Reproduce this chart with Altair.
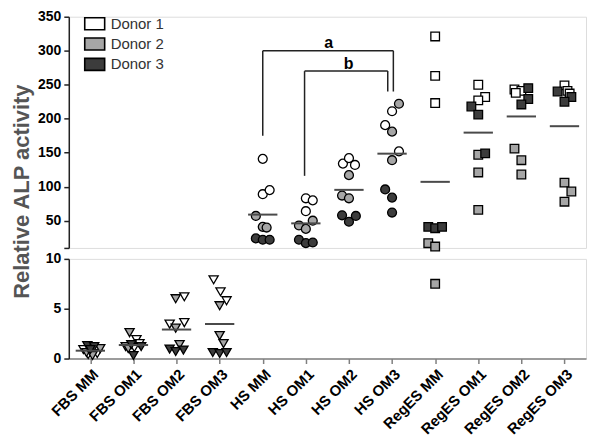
import altair as alt
import pandas as pd

categories = ["FBS MM", "FBS OM1", "FBS OM2", "FBS OM3",
              "HS MM", "HS OM1", "HS OM2", "HS OM3",
              "RegES MM", "RegES OM1", "RegES OM2", "RegES OM3"]
media = ["FBS"] * 4 + ["HS"] * 4 + ["RegES"] * 4
donors = ["Donor 1", "Donor 2", "Donor 3"]

# three replicates per donor and condition
donor1_values = [[0.5, 0.4, 0.9], [1.9, 1.5, 1.1], [6.2, 3.6, 3.45], [7.9, 6.7, 5.8],
                 [141, 89, 95], [83, 80, 64], [134, 142, 132], [211, 190.5, 152],
                 [321, 263, 223], [250, 232, 227], [243, 241, 238], [249, 241, 237]]
donor2_values = [[0.6, 0.3, 1.0], [2.6, 1.2, 1.0], [6.0, 3.05, 1.4], [5.3, 2.3, 1.5],
                 [57, 41, 40], [43, 38, 50], [117, 87, 83], [222, 181, 139],
                 [17, 12, 7.5], [147, 121, 66], [156, 139, 118], [106, 93, 78]]
donor3_values = [[1.3, 1.2, 0.9], [1.4, 1.2, 0.3], [0.95, 0.7, 0.85], [0.6, 0.5, 0.6],
                 [24, 22, 22], [22, 17, 18], [58, 48.5, 57], [96, 84, 62],
                 [41, 39, 41], [218, 206, 149], [245, 229, 221], [240, 232, 225]]

# horizontal scatter of the dots inside a category (category units)
donor1_jitter = [[0.16, -0.05, -0.16], [0.07, 0.14, 0.02], [0.18, 0.18, -0.16], [-0.14, 0.02, 0.16],
                 [0, 0, 0.16], [0, 0.16, 0], [-0.14, 0, 0.14], [0, -0.16, 0.16],
                 [0, 0, 0], [0, 0.16, 0], [-0.16, 0, -0.13], [0, 0.07, 0.12]]
donor2_jitter = [[-0.09, 0.05, 0.23], [-0.09, -0.18, -0.12], [-0.02, -0.02, 0.07], [0, 0, 0.09],
                 [-0.16, 0, 0.09], [-0.16, 0, 0.16], [0, -0.16, 0], [0.16, 0, 0],
                 [-0.16, 0, 0], [0, 0, 0], [-0.16, 0, 0], [0, 0.16, 0]]
donor3_jitter = [[-0.07, 0.09, 0], [-0.05, 0.18, 0], [-0.16, -0.02, 0.16], [-0.16, 0, 0.16],
                 [-0.16, 0, 0.16], [-0.16, 0, 0.16], [-0.16, 0, 0.16], [-0.16, 0, 0],
                 [-0.16, 0, 0.16], [-0.16, 0, 0.16], [0.16, 0.16, 0], [-0.16, 0.16, 0]]

donor_colors = ["#ffffff", "#a6a6a6", "#3c3c3c"]

# significance brackets (category index, value)
bracket_x = [4.0, 4.0, 7.03, 4.97, 4.97, 6.9]
bracket_x2 = [4.0, 7.03, 7.03, 4.97, 6.9, 6.9]
bracket_y = [175, 300, 300, 116, 270, 270]
bracket_y2 = [300, 300, 240, 270, 270, 240]
bracket_labels = ["a", "b"]
bracket_label_x = [5.53, 5.99]
bracket_label_y = [311, 281]

rows = []
for i, cat in enumerate(categories):
    for d, vals, jit in zip(donors, [donor1_values, donor2_values, donor3_values],
                            [donor1_jitter, donor2_jitter, donor3_jitter]):
        for v, j in zip(vals[i], jit[i]):
            rows.append({"idx": i, "category": cat, "medium": media[i],
                         "donor": d, "value": v, "pos": i + j})
df = pd.DataFrame(rows)

brackets = pd.DataFrame({"x": bracket_x, "x2": bracket_x2, "y": bracket_y, "y2": bracket_y2})
blabels = pd.DataFrame({"label": bracket_labels, "x": bracket_label_x, "y": bracket_label_y})

W = 519
xscale = alt.Scale(domain=[-0.5, 11.5], nice=False, zero=False)
label_array = "[" + ",".join("'" + c + "'" for c in categories) + "]"

fill_enc = alt.Fill("donor:N",
                    scale=alt.Scale(domain=donors, range=donor_colors),
                    legend=alt.Legend(title=None, orient="none", legendX=17, legendY=-2,
                                      symbolType="M-1.25,-0.75H1.25V0.75H-1.25Z", symbolSize=256,
                                      symbolStrokeColor="black", symbolStrokeWidth=1.6,
                                      symbolOpacity=1, labelFontSize=15, labelColor="#333333",
                                      labelFont="Liberation Sans", rowPadding=0.4, labelOffset=7))
shape_enc = alt.Shape("medium:N", scale=alt.Scale(domain=["FBS", "HS", "RegES"],
                                                  range=["triangle-down", "circle", "square"]),
                      legend=None)
size_enc = alt.Size("medium:N", scale=alt.Scale(domain=["FBS", "HS", "RegES"], range=[85, 75, 85]),
                    legend=None)


def panel(lo, hi, height, yaxis, xaxis, keep_expr, extras):
    ysc = alt.Scale(domain=[lo, hi], nice=False, zero=False)
    pts = alt.Chart(df).transform_filter(keep_expr).mark_point(
        filled=True, opacity=1, stroke="black", strokeWidth=1.3
    ).encode(
        x=alt.X("pos:Q", scale=xscale, axis=xaxis),
        y=alt.Y("value:Q", scale=ysc, axis=yaxis),
        fill=fill_enc, shape=shape_enc, size=size_enc,
    )
    means = alt.Chart(df).transform_aggregate(
        mean="mean(value)", groupby=["idx"]
    ).transform_calculate(
        x1="datum.idx - 0.34", x2="datum.idx + 0.34", value="datum.mean"
    ).transform_filter(keep_expr).mark_rule(color="#4a4a4a", strokeWidth=2).encode(
        x=alt.X("x1:Q", scale=xscale, axis=xaxis), x2="x2:Q",
        y=alt.Y("value:Q", scale=ysc, axis=yaxis)
    )
    layers = [pts, means] + extras(ysc, yaxis)
    return alt.layer(*layers).properties(width=W, height=height)


def top_extras(ysc, yaxis):
    br = alt.Chart(brackets).mark_rule(color="#222222", strokeWidth=1.5).encode(
        x=alt.X("x:Q", scale=xscale, axis=None), x2="x2:Q",
        y=alt.Y("y:Q", scale=ysc, axis=yaxis), y2="y2:Q")
    tx = alt.Chart(blabels).mark_text(fontSize=16, fontWeight="bold", color="black",
                                      baseline="middle").encode(
        x=alt.X("x:Q", scale=xscale, axis=None), y=alt.Y("y:Q", scale=ysc, axis=yaxis),
        text="label:N")
    return [br, tx]


axis_common = dict(labelFontSize=14, labelFontWeight="bold", labelColor="black",
                   labelFont="Liberation Sans", tickSize=5, tickWidth=1.5, domainWidth=1.5,
                   domainColor="#222222", tickColor="#222222", grid=False, labelPadding=3,
                   labelOverlap=False, labelFlush=False)

top_y_axis = alt.Axis(values=[10, 50, 100, 150, 200, 250, 300, 350],
                      labelExpr="datum.value == 10 ? ' ' : datum.label",
                      title="Relative ALP activity", titleFontSize=22, titleFontWeight="bold",
                      titleColor="#555555", titleFont="Liberation Sans", titleAngle=270,
                      titleX=-40, titleY=175, titleAlign="center", titleBaseline="alphabetic",
                      **axis_common)
bottom_y_axis = alt.Axis(values=[0, 5, 10], title=None, **axis_common)
bottom_x_axis = alt.Axis(values=list(range(12)), labelExpr=label_array + "[datum.value]",
                         title=None, labelAngle=315, labelAlign="right", labelBaseline="top",
                         labelFlush=False, labelOverlap=False, labelBound=False,
                         labelFontSize=15, labelFontWeight="bold", labelColor="black",
                         labelFont="Liberation Sans", tickSize=5, tickWidth=1.5,
                         domainWidth=1.5, domainColor="#808080", tickColor="#808080",
                         grid=False, labelPadding=3)

top = panel(10, 350, 232, top_y_axis, None, "datum.value >= 10", top_extras)
bottom = panel(0, 10, 100, bottom_y_axis, bottom_x_axis, "datum.value < 10", lambda s, a: [])

chart = alt.vconcat(top, bottom, spacing=11, bounds="flush").properties(
    padding={"top": 0, "left": 2, "right": 5, "bottom": 5}
).configure_view(stroke=None).configure_axis(labelOverlap=False).configure(font="Liberation Sans")

chart.save("out.html", embed_options={"renderer": "svg", "actions": False})
